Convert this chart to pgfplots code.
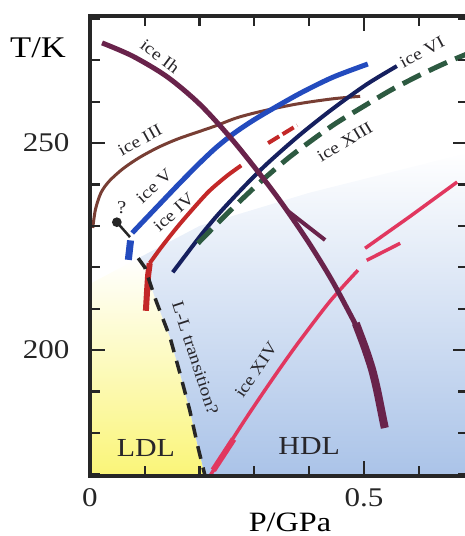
\documentclass[border=0pt]{standalone}
\usepackage{fontspec}
\setmainfont[FakeStretch=1.15]{Liberation Serif}
\usepackage{pgfplots}
\pgfplotsset{compat=1.18}
\definecolor{iceIh}{RGB}{105,35,75}
\definecolor{iceIII}{RGB}{120,62,52}
\definecolor{iceV}{RGB}{35,75,190}
\definecolor{iceIV}{RGB}{195,40,40}
\definecolor{iceVI}{RGB}{22,32,95}
\definecolor{iceXIII}{RGB}{45,90,65}
\definecolor{iceXIV}{RGB}{225,55,95}
\definecolor{ybg}{RGB}{250,245,120}
\definecolor{bbg}{RGB}{170,195,232}
\definecolor{txt}{RGB}{40,38,42}
\begin{document}
\begin{tikzpicture}
\begin{axis}[
  scale only axis, width=378pt, height=460pt,
  xmin=0, xmax=0.6898, ymin=169.6, ymax=280.7,
  axis on top,
  axis line style={line width=3.2pt, black!85},
  xtick={0,0.5}, ytick={200,250},
  minor xtick={0.1,0.2,0.3,0.4,0.6},
  minor ytick={170,180,...,280},
  tick style={line width=2.2pt, black!85},
  major tick length=15pt, minor tick length=10pt,
  tick align=inside,
  /pgf/number format/assume math mode=true,
  ticklabel style={font=\fontsize{27}{30}\selectfont, text=black!85},
  xticklabel style={yshift=-9pt},
  yticklabel style={xshift=-17pt},
  xlabel={P/GPa}, ylabel={T/K},
  xlabel style={font=\fontsize{28}{30}\selectfont, at={(axis description cs:0.529,-0.1)}, anchor=center},
  ylabel style={font=\fontsize{30}{32}\selectfont, at={(axis description cs:-0.1376,0.930)}, anchor=center, rotate=-90},
]
% backgrounds
\addplot[draw=none, top color=white, middle color=ybg, bottom color=ybg] coordinates {
 (0,169.6) (0,216) (0.088,222.2) (0.100,220.0) (0.120,212.1) (0.146,203.1) (0.166,193.5) (0.182,185.5) (0.197,176.6) (0.210,169.6)} -- cycle;
\addplot[draw=none, top color=white, middle color=bbg!92, bottom color=bbg] coordinates {
 (0.088,222.2) (0.100,220.0) (0.120,212.1) (0.146,203.1) (0.166,193.5) (0.182,185.5) (0.197,176.6) (0.210,169.6) (0.70,169.6) (0.70,248) (0.40,238) (0.20,230)} -- cycle;
% ice III
\addplot[iceIII, line width=3pt, smooth] coordinates {
 (0.005,229.5) (0.010,234.0) (0.020,238.0) (0.035,240.8) (0.060,243.8) (0.090,246.5) (0.125,249.0) (0.160,251.0) (0.195,252.6) (0.230,254.2) (0.270,256.2) (0.320,257.9) (0.380,259.5) (0.443,260.7) (0.493,261.3)};
% ice V
\addplot[iceV, line width=5pt, smooth] coordinates {
 (0.077,228.3) (0.100,231.5) (0.131,235.8) (0.165,240.5) (0.201,245.3) (0.230,248.9) (0.261,252.2) (0.292,255.0) (0.323,257.5) (0.383,262.0) (0.443,265.9) (0.507,269.1)};
\addplot[iceV, line width=7pt] coordinates {(0.070,221.8) (0.074,226.5)};
% ice IV
\addplot[iceIV, line width=4pt, smooth] coordinates {
 (0.109,221.0) (0.131,225.0) (0.161,230.0) (0.195,235.2) (0.219,238.6) (0.250,242.1) (0.276,244.6)};
\addplot[iceIV, line width=6pt] coordinates {(0.102,209.5) (0.104,214) (0.106,218) (0.109,221)};
\addplot[iceIV, line width=4pt, dash pattern=on 13pt off 4pt] coordinates {(0.325,250.0) (0.378,254.3)};
% ice VI
\addplot[iceVI, line width=4pt, smooth] coordinates {
 (0.151,218.8) (0.175,223.0) (0.205,228.2) (0.234,232.8) (0.279,239.2) (0.323,245.0) (0.383,252.0) (0.443,258.3) (0.505,264.2) (0.560,268.6)};
% ice XIII
\addplot[iceXIII, line width=5pt, smooth, dash pattern=on 20pt off 9pt] coordinates {
 (0.197,225.8) (0.255,233.6) (0.310,240.5) (0.361,246.3) (0.407,250.9) (0.450,254.9) (0.502,259.1) (0.549,262.8) (0.600,266.3) (0.648,269.3) (0.693,271.8)};
% ice XIV
\addplot[iceXIV, line width=3.5pt, smooth] coordinates {
 (0.219,169.6) (0.252,176.8) (0.283,183.2) (0.319,190.3) (0.352,196.6) (0.383,202.3) (0.438,211.8) (0.489,219.3)};
\addplot[iceXIV, line width=6pt] coordinates {(0.225,171) (0.262,178.5)};
\addplot[iceXIV, line width=3.5pt] coordinates {(0.502,224.6) (0.582,232.1) (0.670,240.6)};
\addplot[iceXIV, line width=3.5pt] coordinates {(0.505,221.7) (0.566,225.8)};
% ice Ih
\addplot[iceIh, line width=5pt, smooth] coordinates {
 (0.022,274.2) (0.078,271.0) (0.141,266.0) (0.201,259.3) (0.261,250.6) (0.323,240.3) (0.359,233.8) (0.401,225.6) (0.443,216.5) (0.487,205.6)};
\addplot[iceIh, line width=4pt] coordinates {(0.359,233.8) (0.429,226.6)};
\addplot[iceIh, line width=8pt, smooth] coordinates {
 (0.485,206.5) (0.502,200.5) (0.515,195.2) (0.524,190.3) (0.535,183.1) (0.538,181.2)};
% L-L transition
\addplot[black!85, line width=3.5pt, dash pattern=on 13pt off 9pt] coordinates {
 (0.088,222.2) (0.100,220.0) (0.120,212.1) (0.146,203.1) (0.166,193.5) (0.182,185.5) (0.197,176.6) (0.210,169.6)};
% ? line
\addplot[black!85, line width=2.5pt, mark=*, mark size=3.5pt, mark indices={1}] coordinates {(0.049,230.9) (0.073,227.3)};
% labels
\node[txt, font=\fontsize{17}{18}\selectfont, rotate=-37] at (0.128,271.0) {ice Ih};
\node[txt, font=\fontsize{17}{18}\selectfont, rotate=29] at (0.091,250.7) {ice III};
\node[txt, font=\fontsize{17}{18}\selectfont, rotate=42] at (0.117,239.6) {ice V};
\node[txt, font=\fontsize{17}{18}\selectfont, rotate=42] at (0.153,233.3) {ice IV};
\node[txt, font=\fontsize{17}{18}\selectfont, rotate=28] at (0.606,272.0) {ice VI};
\node[txt, font=\fontsize{17}{18}\selectfont, rotate=31] at (0.465,250.3) {ice XIII};
\node[txt, font=\fontsize{17}{18}\selectfont, rotate=56] at (0.303,195.2) {ice XIV};
\node[txt, font=\fontsize{17}{18}\selectfont, rotate=-72] at (0.192,198.1) {L-L transition?};
\node[txt, font=\fontsize{18}{18}\selectfont] at (0.058,234.5) {?};
\node[txt, font=\fontsize{26}{28}\selectfont] at (0.102,176.3) {LDL};
\node[txt, font=\fontsize{26}{28}\selectfont] at (0.400,176.8) {HDL};
\end{axis}
\pgfresetboundingbox
\path[use as bounding box] ([xshift=-90pt,yshift=-60pt]current axis.south west) rectangle ([xshift=-4pt,yshift=16pt]current axis.north east);
\end{tikzpicture}
\end{document}
